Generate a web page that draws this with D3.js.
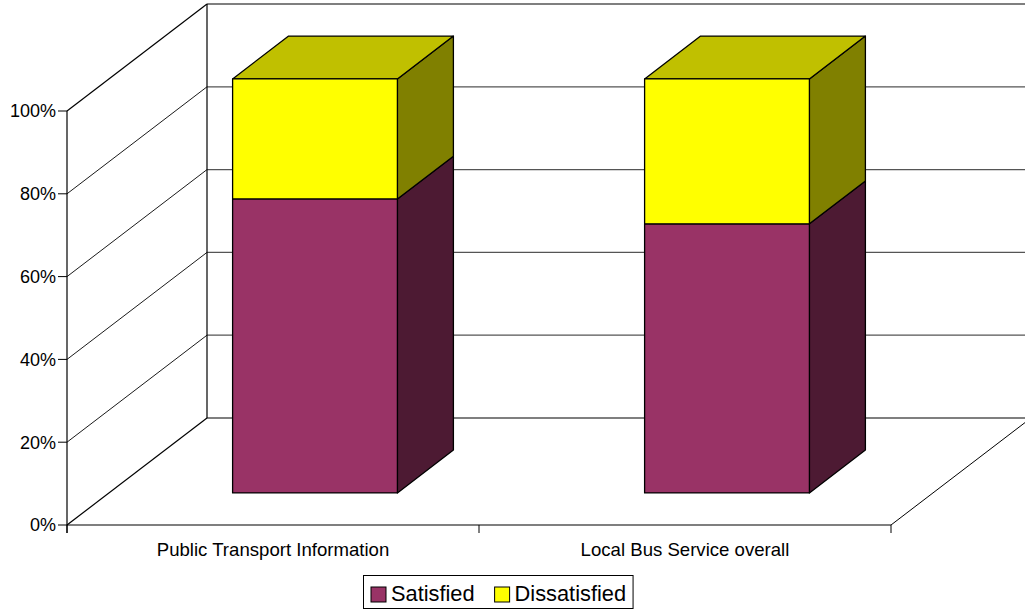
<!DOCTYPE html>
<html>
<head>
<meta charset="utf-8">
<script src="https://cdn.jsdelivr.net/npm/d3@7"></script>
<style>
  html, body { margin: 0; padding: 0; background: #fff; }
  svg { display: block; font-family: "Liberation Sans", Arial, sans-serif; }
</style>
</head>
<body>
<svg id="chart" width="1025" height="610"></svg>
<script>
// Survey results: share of respondents (%)
const categories = ["Public Transport Information", "Local Bus Service overall"];
const seriesNames = ["Satisfied", "Dissatisfied"];
const satisfied = [71, 65];
const dissatisfied = [29, 35];
const yTicks = [0, 20, 40, 60, 80, 100];
const tickLabels = ["0%", "20%", "40%", "60%", "80%", "100%"];

// Face colours per series: front, side, top
const colors = {
  Satisfied:    { front: "#993366", side: "#4D1A33", top: "#7A2952" },
  Dissatisfied: { front: "#FFFF00", side: "#808000", top: "#C0C000" }
};

const svg = d3.select("#chart");

// Front plane of the plot box
const x0 = 67, x1 = 891;
const yScale = d3.scaleLinear().domain([0, 100]).range([525, 111]);
const xBand = d3.scaleBand().domain(categories).range([x0, x1])
  .paddingInner(0.6).paddingOuter(0.3);
const xAxisBand = d3.scaleBand().domain(categories).range([x0, x1]);

// Oblique depth vector (full depth of the plot box)
const DX = 140, DY = -107;
const proj = (x, y, z) => [x + z * DX, y + z * DY];
const pts = arr => arr.map(p => p.join(",")).join(" ");

const g = svg.append("g");

// Back wall gridlines
yTicks.forEach((t, i) => {
  const a = proj(x0, yScale(t), 1);
  const b = proj(1100, yScale(t), 1);
  g.append("line")
    .attr("x1", a[0]).attr("y1", a[1]).attr("x2", b[0]).attr("y2", b[1])
    .attr("stroke", (i === 0 || i === yTicks.length - 1) ? "#000" : "#555")
    .attr("stroke-width", 1.2);
});

// Side wall diagonals
yTicks.forEach((t, i) => {
  const a = proj(x0, yScale(t), 0);
  const b = proj(x0, yScale(t), 1);
  g.append("line")
    .attr("x1", a[0]).attr("y1", a[1]).attr("x2", b[0]).attr("y2", b[1])
    .attr("stroke", "#000")
    .attr("stroke-width", (i === 0 || i === yTicks.length - 1) ? 1.2 : 0.9);
});

// Back wall vertical edge
{
  const a = proj(x0, yScale(0), 1), b = proj(x0, yScale(100), 1);
  g.append("line").attr("x1", a[0]).attr("y1", a[1]).attr("x2", b[0]).attr("y2", b[1])
    .attr("stroke", "#000").attr("stroke-width", 1.2);
}

// Floor right edge
{
  const a = proj(x1, yScale(0), 0), b = proj(x1, yScale(0), 1);
  g.append("line").attr("x1", a[0]).attr("y1", a[1]).attr("x2", b[0]).attr("y2", b[1])
    .attr("stroke", "#000").attr("stroke-width", 1);
}

// Value axis (front left edge)
g.append("line").attr("x1", x0).attr("y1", yScale(0) + 8).attr("x2", x0).attr("y2", yScale(100))
  .attr("stroke", "#000").attr("stroke-width", 1.2);
yTicks.forEach((t, i) => {
  g.append("line").attr("x1", x0 - 9).attr("x2", x0).attr("y1", yScale(t)).attr("y2", yScale(t))
    .attr("stroke", "#000").attr("stroke-width", 1);
  g.append("text").attr("x", x0 - 11).attr("y", yScale(t)).attr("dy", "0.36em")
    .attr("text-anchor", "end").attr("font-size", 18).attr("fill", "#000")
    .text(tickLabels[i]);
});

// Category axis (front floor edge)
g.append("line").attr("x1", x0).attr("y1", yScale(0)).attr("x2", x1).attr("y2", yScale(0))
  .attr("stroke", "#000").attr("stroke-width", 1.2);
[x0, ...categories.map(c => xAxisBand(c) + xAxisBand.bandwidth())].forEach(xt => {
  g.append("line").attr("x1", xt).attr("x2", xt).attr("y1", yScale(0)).attr("y2", yScale(0) + 8)
    .attr("stroke", "#000").attr("stroke-width", 1);
});
categories.forEach(c => {
  g.append("text").attr("x", xAxisBand(c) + xAxisBand.bandwidth() / 2).attr("y", 555.5)
    .attr("text-anchor", "middle").attr("font-size", 18.6).attr("fill", "#000").text(c);
});

// Stacked 3D columns
const rows = categories.map((c, i) => ({ cat: c, Satisfied: satisfied[i], Dissatisfied: dissatisfied[i] }));
const stacked = d3.stack().keys(seriesNames)(rows);
const zF = 0.3, zB = 0.7;

stacked.forEach((layer, li) => {
  const key = layer.key;
  const isTop = li === stacked.length - 1;
  layer.forEach(seg => {
    const c = seg.data.cat;
    const xl = xBand(c), xr = xBand(c) + xBand.bandwidth();
    const yb = yScale(seg[0]), yt = yScale(seg[1]);
    const bar = g.append("g").attr("stroke", "#000").attr("stroke-width", 1.3)
      .attr("stroke-linejoin", "round");
    // side face
    bar.append("polygon").attr("fill", colors[key].side)
      .attr("points", pts([proj(xr, yb, zF), proj(xr, yb, zB), proj(xr, yt, zB), proj(xr, yt, zF)]));
    // top face
    if (isTop) {
      bar.append("polygon").attr("fill", colors[key].top)
        .attr("points", pts([proj(xl, yt, zF), proj(xl, yt, zB), proj(xr, yt, zB), proj(xr, yt, zF)]));
    }
    // front face
    bar.append("polygon").attr("fill", colors[key].front)
      .attr("points", pts([proj(xl, yb, zF), proj(xr, yb, zF), proj(xr, yt, zF), proj(xl, yt, zF)]));
  });
});

// Legend
const leg = svg.append("g");
const legBox = leg.append("rect").attr("fill", "#fff").attr("stroke", "#000").attr("stroke-width", 1);
let cx = 371;
let lastEnd = cx;
seriesNames.forEach(name => {
  leg.append("rect").attr("x", cx).attr("y", 587).attr("width", 15).attr("height", 15)
    .attr("fill", colors[name].front).attr("stroke", "#000").attr("stroke-width", 1);
  const t = leg.append("text").attr("x", cx + 20).attr("y", 600.5)
    .attr("font-size", 21.8).attr("fill", "#000").text(name);
  lastEnd = cx + 20 + t.node().getComputedTextLength();
  cx = lastEnd + 20;
});
legBox.attr("x", 363.5).attr("y", 575.5).attr("width", lastEnd + 7 - 363.5).attr("height", 33);
</script>
</body>
</html>
